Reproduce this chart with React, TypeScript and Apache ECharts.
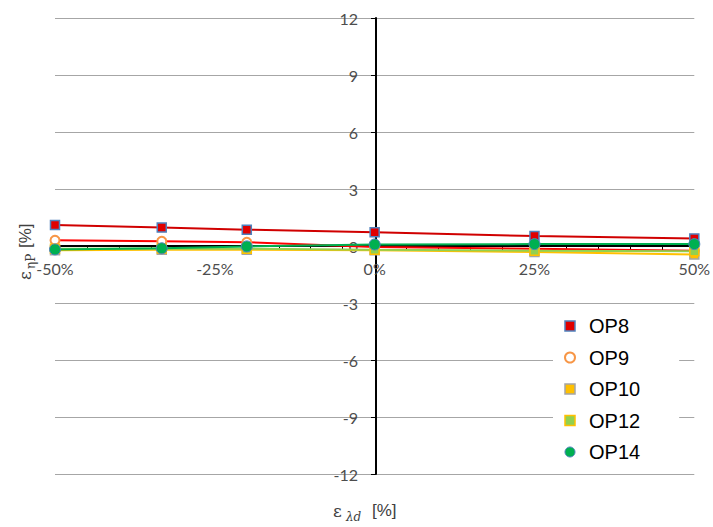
import React, { useEffect, useRef } from "react";
import * as echarts from "echarts";

const xValues = [-50, -33.3, -20, 0, 25, 50];
const op8 = [1.1, 0.97, 0.86, 0.72, 0.52, 0.4];
const op9 = [0.3, 0.25, 0.2, -0.05, -0.14, -0.25];
const op10 = [-0.22, -0.2, -0.2, -0.22, -0.32, -0.45];
const op12 = [-0.15, -0.13, -0.14, -0.2, -0.25, -0.28];
const op14 = [-0.18, -0.12, -0.02, 0.08, 0.1, 0.1];
const seriesNames = ["OP8", "OP9", "OP10", "OP12", "OP14"];

const pair = (ys: number[]) => xValues.map((x, i) => [x, ys[i]]);

export default function App() {
  const ref = useRef<HTMLDivElement>(null);
  useEffect(() => {
    document.body.style.margin = "0";
    const chart = echarts.init(ref.current!, null, { renderer: "svg" });
    const labelFont = "Lato";
    const axisGray = "#4d4d4d";
    const styles = [
      { sym: "rect", fill: "#e00000", border: "#4f81bd", bw: 1.5, line: "#d00000", size: 9 },
      { sym: "circle", fill: "#ffffff", border: "#f79646", bw: 2, line: "#ff0000", size: 9 },
      { sym: "rect", fill: "#ffc000", border: "#a5a5a5", bw: 1.5, line: "#ffc000", size: 9 },
      { sym: "rect", fill: "#92d050", border: "#ffc000", bw: 1.5, line: "#92d050", size: 9 },
      { sym: "circle", fill: "#00b050", border: "#4f81bd", bw: 1, line: "#00b050", size: 11 },
    ];
    const dataSets = [op8, op9, op10, op12, op14];
    chart.setOption({
      animation: false,
      backgroundColor: "#ffffff",
      grid: { left: 55, right: 15, top: 18, bottom: 53, containLabel: false },
      xAxis: {
        type: "value",
        min: -50,
        max: 50,
        interval: 25,
        position: "bottom",
        offset: -228,
        axisLine: { onZero: false, lineStyle: { color: "#000", width: 2 } },
        axisTick: { show: true, length: 4, lineStyle: { color: "#000" } },
        minorTick: { show: true, splitNumber: 5, length: 4, lineStyle: { color: "#000" } },
        splitLine: { show: false },
        axisLabel: {
          formatter: (v: number) => v + "%",
          color: axisGray,
          fontSize: 16,
          fontFamily: labelFont,
          margin: 14,
        },
      },
      yAxis: {
        type: "value",
        min: -12,
        max: 12,
        interval: 3,
        position: "left",
        offset: -321,
        axisLine: { onZero: false, lineStyle: { color: "#000", width: 2 } },
        axisTick: { show: true, length: 5, lineStyle: { color: "#000" } },
        splitLine: { show: true, lineStyle: { color: "#a6a6a6", width: 1 } },
        axisLabel: { color: axisGray, fontSize: 16, fontFamily: labelFont, margin: 18 },
      },
      legend: {
        orient: "vertical",
        left: 553,
        top: 309,
        padding: [7, 39, 7, 11],
        backgroundColor: "#ffffff",
        itemWidth: 10,
        itemHeight: 10,
        itemGap: 11.5,
        selectedMode: false,
        textStyle: { fontSize: 20, fontFamily: "Liberation Sans", color: "#000", lineHeight: 20, padding: [0, 0, 0, 9] },
        data: seriesNames.map((n, i) => ({
          name: n,
          icon: styles[i].sym,
          itemStyle: { color: styles[i].fill, borderColor: styles[i].border, borderWidth: styles[i].bw },
        })),
      },
      graphic: [
        {
          type: "group",
          x: 333,
          y: 511,
          children: [
            { type: "text", x: 0, y: 0, style: { text: "ε", fontSize: 17, fontFamily: "DejaVu Serif", fill: "#404040", align: "left", verticalAlign: "middle" } },
            { type: "text", x: 13, y: 6, style: { text: "λd", fontSize: 12, fontStyle: "italic", fontFamily: "DejaVu Serif", fill: "#404040", align: "left", verticalAlign: "middle" } },
            { type: "text", x: 39, y: -1, style: { text: "[%]", fontSize: 17, fontFamily: "Liberation Sans", fill: "#404040", align: "left", verticalAlign: "middle" } },
          ],
        },
        {
          type: "group",
          x: 25,
          y: 280,
          rotation: Math.PI / 2,
          children: [
            { type: "text", x: 0, y: 0, style: { text: "ε", fontSize: 17, fontFamily: "DejaVu Serif", fill: "#404040", align: "left", verticalAlign: "middle" } },
            { type: "text", x: 11, y: 6, style: { text: "ηP", fontSize: 12, fontFamily: "DejaVu Serif", fill: "#404040", align: "left", verticalAlign: "middle" } },
            { type: "text", x: 32, y: 0, style: { text: "[%]", fontSize: 17, fontFamily: "Liberation Sans", fill: "#404040", align: "left", verticalAlign: "middle" } },
          ],
        },
      ],
      series: seriesNames.map((n, i) => ({
        name: n,
        type: "line",
        data: pair(dataSets[i]),
        symbol: styles[i].sym,
        symbolSize: styles[i].size,
        showAllSymbol: true,
        itemStyle: { color: styles[i].fill, borderColor: styles[i].border, borderWidth: styles[i].bw },
        lineStyle: { color: styles[i].line, width: 2 },
        z: 2 + i,
      })),
    });
    return () => chart.dispose();
  }, []);
  return <div ref={ref} style={{ width: 713, height: 527 }} />;
}
